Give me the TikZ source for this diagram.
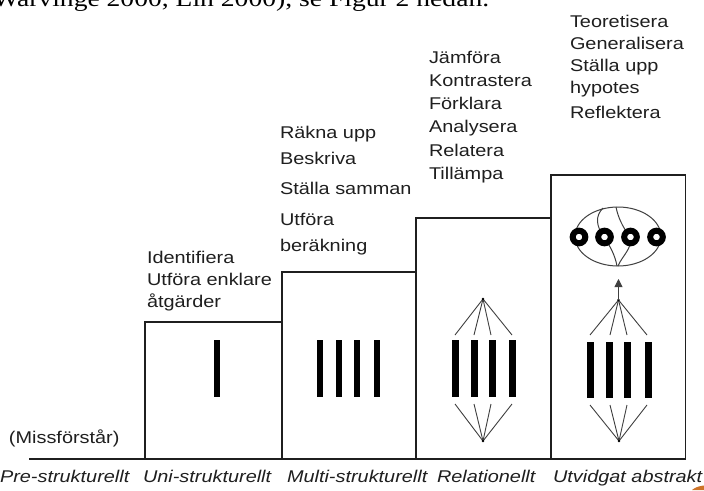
\documentclass[tikz,border=0pt]{standalone}
\usepackage{fontspec}
\newfontfamily\lab[FakeStretch=1.17]{Liberation Sans}
\newfontfamily\toptext[FakeStretch=1.2]{Liberation Serif}
\usetikzlibrary{arrows.meta}
\definecolor{ink}{gray}{0.12}
\definecolor{fancol}{gray}{0.25}
\definecolor{artif}{RGB}{205,115,40}
\begin{document}
\begin{tikzpicture}[x=1pt,y=-1pt,
  lbl/.style={anchor=base west,inner sep=0pt,outer sep=0pt,text=ink,font=\lab\fontsize{17}{17}\selectfont},
  lvl/.style={anchor=base west,inner sep=0pt,outer sep=0pt,text=ink,font=\lab\itshape\fontsize{17}{17}\selectfont},
  boxline/.style={draw=ink,line width=1.3pt},
  barfill/.style={fill=black},
  fan/.style={draw=fancol,line width=0.9pt},
  ring/.style={draw=black,line width=6pt,fill=white},
  ]
\useasboundingbox (0,0) rectangle (704,490);
\fill[white] (0,0) rectangle (704,490);

% cropped running text at the top
\begin{scope}
\clip (0,0) rectangle (704,13);
\node[anchor=base west,inner sep=0pt,text=black,font=\toptext\fontsize{23}{23}\selectfont] (cut) at (-7,6.5) {Warvinge 2000, Lin 2000), se Figur 2 nedan.};
\end{scope}

% staircase
\coordinate (b0) at (29,459);
\coordinate (b5) at (686,459);
\draw[boxline] (b0) -- (b5);
\draw[boxline] (145,459) -- (145,322) -- (282,322);
\draw[boxline] (282,459) -- (282,272) -- (416,272);
\draw[boxline] (416,459) -- (416,218) -- (551,218);
\draw[boxline] (551,459) -- (551,175) -- (685.5,175) -- (685.5,459);

% uni-structural
\fill[barfill] (214.2,340) rectangle (219.8,397);
% multi-structural
\foreach \x in {320,339,357,377}{\fill[barfill] (\x-3,340) rectangle (\x+3,397);}
% relational
\foreach \x in {455,474,492,512}{\fill[barfill] (\x-3.5,340) rectangle (\x+3.5,397);}
\coordinate (rt) at (483,299);
\coordinate (rb) at (483,441);
\foreach \x in {455,474,491,512}{
  \draw[fan] (rt) -- (\x,335);
  \draw[fan] (\x,404) -- (rb);
}
\fill[black] (rt) circle (1.4);
\fill[black] (rb) circle (1.4);

% extended abstract
\foreach \x in {590,609,627,648}{\fill[barfill] (\x-3.5,342) rectangle (\x+3.5,398);}
\coordinate (et) at (618.5,300);
\coordinate (eb) at (619,441);
\foreach \x in {590,610,627,647}{
  \draw[fan] (et) -- (\x,335);
  \draw[fan] (\x,405) -- (eb);
}
\fill[black] (et) circle (1.4);
\fill[black] (eb) circle (1.4);
\coordinate (ah) at (618.5,279);
\draw[fan,-{Triangle[length=8pt,width=8pt]}] (et) -- (ah);

\draw[draw=fancol,line width=1pt] (618,236.5) ellipse [x radius=43, y radius=29.5];
\draw[draw=fancol,line width=1pt] (603,208) .. controls (595,216) and (596,226) .. (604,237) .. controls (610,246) and (615,255) .. (617,266);
\draw[draw=fancol,line width=1pt] (616,207) .. controls (618,217) and (622,226) .. (630,237) .. controls (633,248) and (622,256) .. (618,266);
\foreach \x in {579,604.5,630.5,656.5}{\draw[ring] (\x,237) circle (6.3);}

% verbs
\node[lbl] (u1) at (147,263) {Identifiera};
\node[lbl] (u2) at (147,285.5) {Utföra enklare};
\node[lbl] (u3) at (147,307.5) {åtgärder};

\node[lbl] (m1) at (280,138) {Räkna upp};
\node[lbl] (m2) at (280,164) {Beskriva};
\node[lbl] (m3) at (280,194) {Ställa samman};
\node[lbl] (m4) at (280,225) {Utföra};
\node[lbl] (m5) at (280,251) {beräkning};

\node[lbl] (r1) at (429,63) {Jämföra};
\node[lbl] (r2) at (429,86) {Kontrastera};
\node[lbl] (r3) at (429,109) {Förklara};
\node[lbl] (r4) at (429,132) {Analysera};
\node[lbl] (r5) at (429,156) {Relatera};
\node[lbl] (r6) at (429,179) {Tillämpa};

\node[lbl] (e1) at (570,27) {Teoretisera};
\node[lbl] (e2) at (570,49) {Generalisera};
\node[lbl] (e3) at (570,71) {Ställa upp};
\node[lbl] (e4) at (570,93) {hypotes};
\node[lbl] (e5) at (570,118) {Reflektera};

\node[lbl] (miss) at (9,443) {(Missförstår)};

% level names
\node[lvl] (l1) at (0,482) {Pre-strukturellt};
\node[lvl] (l2) at (143,482) {Uni-strukturellt};
\node[lvl] (l3) at (287,482) {Multi-strukturellt};
\node[lvl] (l4) at (437,482) {Relationellt};
\node[lvl] (l5) at (553,482) {Utvidgat abstrakt};

% small orange artefact in the corner
\fill[artif] (692,490) .. controls (695,487.5) and (699,486) .. (704,485.5) -- (704,490) -- cycle;
\end{tikzpicture}
\end{document}
